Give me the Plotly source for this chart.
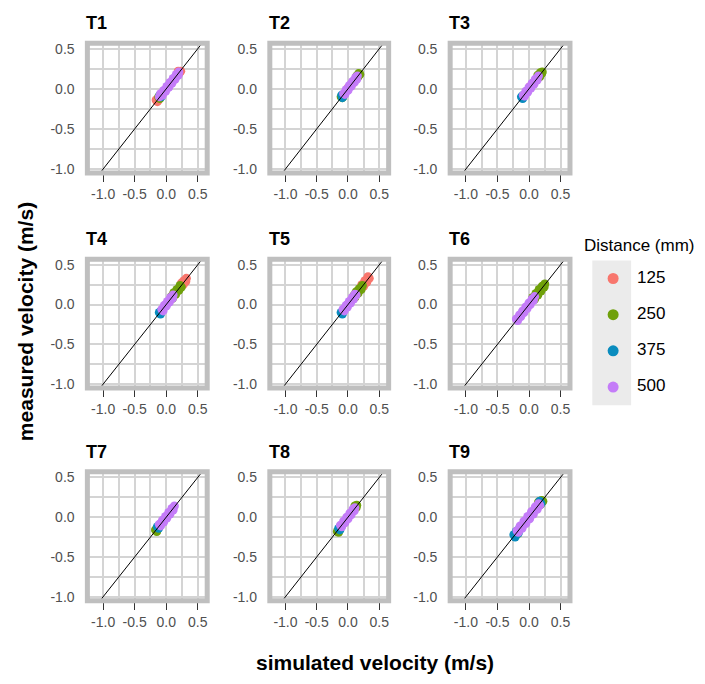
import plotly.graph_objects as go

# ---- data: (simulated, measured) velocity pairs in m/s, per test and distance ----
DISTANCES = ["125", "250", "375", "500"]
COLORS = ["#F8766D", "#6FA00A", "#0A8CBE", "#C47CF8"]

T1_d125 = [(-0.16, -0.14), (-0.14, -0.16), (-0.12, -0.13), (0.19, 0.22), (0.21, 0.20), (0.23, 0.22)]
T1_d250 = [(-0.12, -0.10), (-0.10, -0.12), (-0.09, -0.09)]
T1_d375 = [(-0.10, -0.08), (-0.08, -0.10), (-0.07, -0.06)]
T1_d500 = [(-0.11, -0.10), (-0.09, -0.06), (-0.06, -0.08), (-0.04, -0.02), (-0.01, -0.03), (0.01, 0.03),
           (0.04, 0.02), (0.06, 0.08), (0.09, 0.07), (0.11, 0.13), (0.14, 0.12), (0.16, 0.18), (0.19, 0.17), (0.20, 0.21)]

T2_d125 = [(0.00, 0.01), (0.05, 0.04)]
T2_d250 = [(-0.11, -0.10), (-0.09, -0.11), (0.14, 0.16), (0.16, 0.15), (0.17, 0.19), (0.19, 0.18)]
T2_d375 = [(-0.10, -0.08), (-0.08, -0.09), (-0.09, -0.11)]
T2_d500 = [(-0.07, -0.06), (-0.05, -0.07), (-0.03, -0.01), (0.00, -0.02), (0.02, 0.04), (0.05, 0.03),
           (0.07, 0.09), (0.10, 0.08), (0.12, 0.14), (0.14, 0.12), (0.15, 0.16)]

T3_d125 = [(0.02, 0.03)]
T3_d250 = [(0.14, 0.17), (0.17, 0.15), (0.18, 0.20), (0.20, 0.19), (0.21, 0.21)]
T3_d375 = [(-0.12, -0.10), (-0.10, -0.12), (-0.09, -0.08)]
T3_d500 = [(-0.09, -0.08), (-0.07, -0.09), (-0.05, -0.03), (-0.02, -0.04), (0.00, 0.02), (0.03, 0.01),
           (0.05, 0.07), (0.08, 0.06), (0.10, 0.12), (0.13, 0.11), (0.15, 0.16)]

T4_d125 = [(0.24, 0.27), (0.27, 0.25), (0.28, 0.30), (0.31, 0.29), (0.32, 0.33)]
T4_d250 = [(0.08, 0.10), (0.10, 0.08), (0.12, 0.15), (0.15, 0.13), (0.17, 0.19), (0.20, 0.18), (0.22, 0.24), (0.24, 0.22)]
T4_d375 = [(-0.11, -0.10), (-0.09, -0.12), (-0.08, -0.08)]
T4_d500 = [(-0.07, -0.06), (-0.05, -0.08), (-0.03, -0.01), (0.00, -0.02), (0.02, 0.04), (0.05, 0.03),
           (0.07, 0.09), (0.10, 0.08), (0.11, 0.12)]

T5_d125 = [(0.22, 0.25), (0.25, 0.23), (0.27, 0.30), (0.30, 0.28), (0.32, 0.35), (0.34, 0.33)]
T5_d250 = [(0.09, 0.11), (0.11, 0.09), (0.13, 0.16), (0.16, 0.14), (0.18, 0.20), (0.21, 0.19), (0.23, 0.24)]
T5_d375 = [(-0.11, -0.10), (-0.09, -0.12), (-0.08, -0.08)]
T5_d500 = [(-0.08, -0.06), (-0.06, -0.08), (-0.03, -0.01), (-0.01, -0.03), (0.02, 0.04), (0.04, 0.02),
           (0.07, 0.09), (0.09, 0.07), (0.11, 0.13), (0.13, 0.12)]

T6_d125 = [(0.00, 0.00)]
T6_d250 = [(0.06, 0.09), (0.09, 0.07), (0.11, 0.14), (0.14, 0.12), (0.16, 0.19), (0.19, 0.17), (0.21, 0.23),
           (0.24, 0.22), (0.25, 0.26)]
T6_d375 = [(-0.10, -0.10)]
T6_d500 = [(-0.20, -0.18), (-0.18, -0.20), (-0.15, -0.13), (-0.13, -0.15), (-0.10, -0.08), (-0.08, -0.10),
           (-0.05, -0.03), (-0.03, -0.05), (0.00, 0.02), (0.02, 0.00), (0.05, 0.07), (0.07, 0.05), (0.09, 0.10)]

T7_d125 = [(0.00, 0.00)]
T7_d250 = [(-0.17, -0.16), (-0.15, -0.18), (-0.14, -0.14)]
T7_d375 = [(-0.14, -0.12), (-0.12, -0.14), (-0.11, -0.11)]
T7_d500 = [(-0.11, -0.09), (-0.09, -0.11), (-0.06, -0.04), (-0.04, -0.06), (-0.01, 0.01), (0.01, -0.01),
           (0.04, 0.06), (0.06, 0.04), (0.09, 0.11), (0.11, 0.09), (0.13, 0.14)]

T8_d125 = [(0.00, 0.00)]
T8_d250 = [(-0.17, -0.18), (-0.15, -0.19), (0.11, 0.14), (0.13, 0.12), (0.14, 0.15)]
T8_d375 = [(-0.15, -0.14), (-0.13, -0.16), (-0.12, -0.12)]
T8_d500 = [(-0.12, -0.10), (-0.10, -0.12), (-0.07, -0.05), (-0.05, -0.07), (-0.02, 0.00), (0.00, -0.02),
           (0.03, 0.05), (0.05, 0.03), (0.08, 0.10), (0.10, 0.08), (0.11, 0.12)]

T9_d125 = [(0.00, 0.00)]
T9_d250 = [(0.15, 0.19), (0.18, 0.16), (0.20, 0.21), (0.22, 0.20), (-0.18, -0.21)]
T9_d375 = [(-0.24, -0.22), (-0.22, -0.25), (-0.20, -0.18), (-0.17, -0.20), (-0.15, -0.14), (0.17, 0.20), (0.19, 0.17)]
T9_d500 = [(-0.19, -0.17), (-0.17, -0.19), (-0.14, -0.11), (-0.11, -0.14), (-0.08, -0.05), (-0.05, -0.08),
           (-0.02, 0.01), (0.01, -0.02), (0.04, 0.07), (0.07, 0.04), (0.10, 0.13), (0.13, 0.10), (0.15, 0.17), (0.17, 0.15)]

PANELS = [
    ("T1", [T1_d125, T1_d250, T1_d375, T1_d500]),
    ("T2", [T2_d125, T2_d250, T2_d375, T2_d500]),
    ("T3", [T3_d125, T3_d250, T3_d375, T3_d500]),
    ("T4", [T4_d125, T4_d250, T4_d375, T4_d500]),
    ("T5", [T5_d125, T5_d250, T5_d375, T5_d500]),
    ("T6", [T6_d125, T6_d250, T6_d375, T6_d500]),
    ("T7", [T7_d125, T7_d250, T7_d375, T7_d500]),
    ("T8", [T8_d125, T8_d250, T8_d375, T8_d500]),
    ("T9", [T9_d125, T9_d250, T9_d375, T9_d500]),
]

TICKS = [-1.0, -0.5, 0.0, 0.5]
TICK_TEXT = ["-1.0", "-0.5", "0.0", "0.5"]
X_RANGE = [-1.25, 0.65]
Y_RANGE = [-1.05, 0.57]

# ---- layout geometry (pixels) ----
W, H = 705, 684
COL_L = [87.5, 270.2, 450.8]
COL_R = [207.5, 389.2, 570.8]
ROW_T = [41.5, 259.5, 474.0]
ROW_B = [172.5, 389.5, 604.0]

FONT = "Liberation Sans, Arial, sans-serif"
GRID = "#d4d4d4"
BORDER = "#bfbfbf"
TICKFONT = dict(family=FONT, size=14, color="#505050")


def px_x(p):
    return p / W


def px_y(p):
    return 1 - p / H


fig = go.Figure()
layout = {}
shapes = []
annotations = []

for i, (name, groups) in enumerate(PANELS):
    r, c = divmod(i, 3)
    k = "" if i == 0 else str(i + 1)
    xa, ya = "x" + k, "y" + k
    layout["xaxis" + k] = dict(
        domain=[px_x(COL_L[c]), px_x(COL_R[c])], range=X_RANGE, anchor=ya,
        tickvals=TICKS, ticktext=TICK_TEXT, tickfont=TICKFONT,
        ticks="outside", ticklen=8, tickwidth=1.4, tickcolor="#333333",
        showgrid=True, gridcolor=GRID, gridwidth=1.6, zeroline=False, showline=False,
        minor=dict(dtick=0.25, tick0=-1.0, showgrid=True, gridcolor=GRID, gridwidth=1.6, ticks=""),
    )
    layout["yaxis" + k] = dict(
        domain=[px_y(ROW_B[r]), px_y(ROW_T[r])], range=Y_RANGE, anchor=xa,
        tickvals=TICKS, ticktext=TICK_TEXT, tickfont=TICKFONT,
        ticks="outside", ticklen=9, tickcolor="rgba(0,0,0,0)",
        showgrid=True, gridcolor=GRID, gridwidth=1.6, zeroline=False, showline=False,
        minor=dict(dtick=0.25, tick0=-1.0, showgrid=True, gridcolor=GRID, gridwidth=1.6, ticks=""),
    )
    for pts, color, dist in zip(groups, COLORS, DISTANCES):
        fig.add_trace(go.Scatter(
            x=[p[0] for p in pts], y=[p[1] for p in pts], mode="markers",
            marker=dict(color=color, size=9, line=dict(width=0)),
            xaxis=xa, yaxis=ya, showlegend=False, name=dist,
        ))
    # identity line y = x across the axis range
    fig.add_trace(go.Scatter(
        x=X_RANGE, y=X_RANGE, mode="lines", line=dict(color="black", width=1),
        xaxis=xa, yaxis=ya, showlegend=False, hoverinfo="skip",
    ))
    # thick gray panel border
    shapes.append(dict(type="rect", xref=xa + " domain", yref=ya + " domain",
                       x0=0, x1=1, y0=0, y1=1, line=dict(color=BORDER, width=5), layer="above"))
    # facet strip title
    annotations.append(dict(text="<b>" + name + "</b>", xref="paper", yref="paper",
                            x=px_x(COL_L[c] - 3), y=px_y(ROW_T[r] - 20), xanchor="left", yanchor="middle",
                            showarrow=False, font=dict(family=FONT, size=18, color="black")))

# ---- legend drawn as its own small panel (x measured in pixels from its left edge) ----
LEG_L, LEG_R, LEG_T, LEG_B = 593, 700, 260.7, 406.7
KEY_W = 39
layout["xaxis10"] = dict(domain=[px_x(LEG_L), px_x(LEG_R)], range=[0, LEG_R - LEG_L], anchor="y10",
                         visible=False, fixedrange=True)
layout["yaxis10"] = dict(domain=[px_y(LEG_B), px_y(LEG_T)], anchor="x10", type="category",
                         categoryorder="array", categoryarray=DISTANCES, range=[3.5, -0.5],
                         visible=False, fixedrange=True)
shapes.append(dict(type="rect", xref="x10", yref="y10 domain", x0=0, x1=KEY_W, y0=0, y1=1,
                   fillcolor="#ebebeb", line=dict(width=0), layer="below"))
fig.add_trace(go.Scatter(x=[21] * 4, y=DISTANCES, mode="markers",
                         marker=dict(color=COLORS, size=11), xaxis="x10", yaxis="y10",
                         showlegend=False, hoverinfo="skip"))
fig.add_trace(go.Scatter(x=[45] * 4, y=DISTANCES, mode="text", text=DISTANCES,
                         textposition="middle right",
                         textfont=dict(family=FONT, size=17, color="black"),
                         xaxis="x10", yaxis="y10", showlegend=False, hoverinfo="skip"))
annotations.append(dict(text="Distance (mm)", xref="paper", yref="paper", x=px_x(583), y=px_y(246),
                        xanchor="left", yanchor="middle", showarrow=False,
                        font=dict(family=FONT, size=17, color="black")))

# ---- shared axis titles ----
annotations.append(dict(text="<b>simulated velocity (m/s)</b>", xref="paper", yref="paper",
                        x=px_x(376), y=px_y(666), xanchor="center", yanchor="middle", showarrow=False,
                        font=dict(family=FONT, size=21, color="black")))
annotations.append(dict(text="<b>measured velocity (m/s)</b>", xref="paper", yref="paper",
                        x=px_x(25), y=px_y(322), xanchor="center", yanchor="middle", textangle=-90,
                        showarrow=False, font=dict(family=FONT, size=21, color="black")))

fig.update_layout(
    width=W, height=H, margin=dict(l=0, r=0, t=0, b=0),
    paper_bgcolor="white", plot_bgcolor="white",
    shapes=shapes, annotations=annotations, showlegend=False,
    **layout,
)

fig.write_html("out.html")
